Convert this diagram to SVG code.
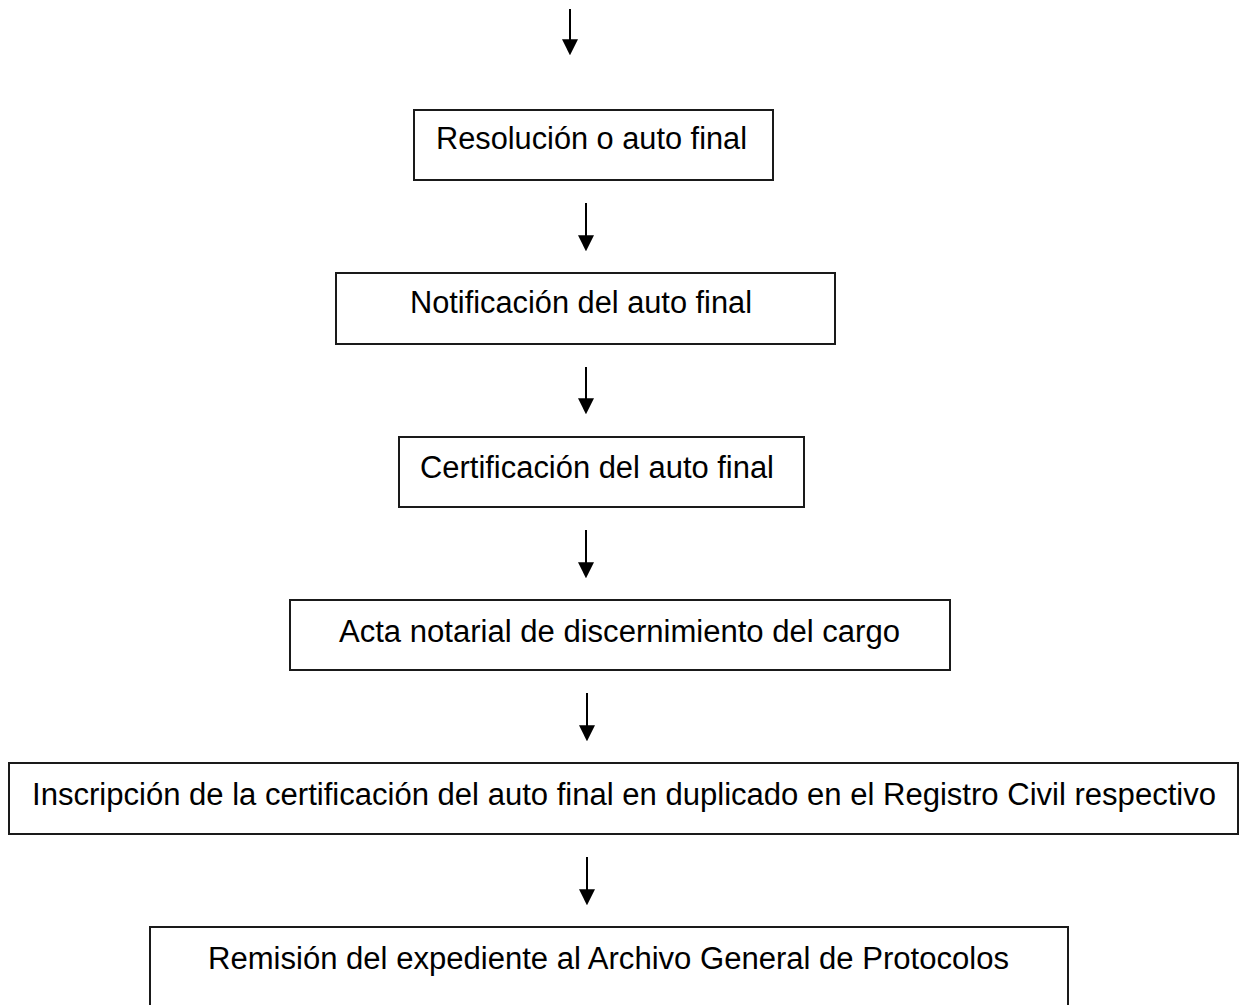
<svg xmlns="http://www.w3.org/2000/svg" width="1240" height="1005" viewBox="0 0 1240 1005">
<style>
  .box { fill: #ffffff; stroke: #1a1a1a; stroke-width: 2; }
  .lbl { font-family: "Liberation Sans", Arial, sans-serif; font-size: 31px; fill: #000000; }
  .conn { stroke: #000000; stroke-width: 2; fill: none; }
</style>
<defs>
  <marker id="ah" markerUnits="userSpaceOnUse" markerWidth="16" markerHeight="16" refX="10" refY="7.5" orient="auto" viewBox="0 0 15 15">
    <path d="M0,0 L15,7.5 L0,15 z" fill="#000000"/>
  </marker>
</defs>
<rect width="1240" height="1005" fill="#ffffff"/>
<g id="connectors">
  <line class="conn" x1="570" y1="9" x2="570" y2="50" marker-end="url(#ah)"/>
  <line class="conn" x1="586" y1="203" x2="586" y2="246" marker-end="url(#ah)"/>
  <line class="conn" x1="586" y1="367" x2="586" y2="409" marker-end="url(#ah)"/>
  <line class="conn" x1="586" y1="530" x2="586" y2="573" marker-end="url(#ah)"/>
  <line class="conn" x1="587" y1="693" x2="587" y2="736" marker-end="url(#ah)"/>
  <line class="conn" x1="587" y1="857" x2="587" y2="900" marker-end="url(#ah)"/>
</g>
<g id="n1">
  <rect class="box" x="414" y="110" width="359" height="70"/>
  <text class="lbl" x="436" y="149" textLength="311" lengthAdjust="spacingAndGlyphs">Resolución o auto final</text>
</g>
<g id="n2">
  <rect class="box" x="336" y="273" width="499" height="71"/>
  <text class="lbl" x="410" y="313" textLength="342" lengthAdjust="spacingAndGlyphs">Notificación del auto final</text>
</g>
<g id="n3">
  <rect class="box" x="399" y="437" width="405" height="70"/>
  <text class="lbl" x="420" y="478" textLength="354" lengthAdjust="spacingAndGlyphs">Certificación del auto final</text>
</g>
<g id="n4">
  <rect class="box" x="290" y="600" width="660" height="70"/>
  <text class="lbl" x="339" y="642" textLength="561" lengthAdjust="spacingAndGlyphs">Acta notarial de discernimiento del cargo</text>
</g>
<g id="n5">
  <rect class="box" x="9" y="763" width="1229" height="71"/>
  <text class="lbl" x="32" y="805" textLength="1184" lengthAdjust="spacingAndGlyphs">Inscripción de la certificación del auto final en duplicado en el Registro Civil respectivo</text>
</g>
<g id="n6">
  <rect class="box" x="150" y="927" width="918" height="100"/>
  <text class="lbl" x="208" y="969" textLength="801" lengthAdjust="spacingAndGlyphs">Remisión del expediente al Archivo General de Protocolos</text>
</g>
</svg>
